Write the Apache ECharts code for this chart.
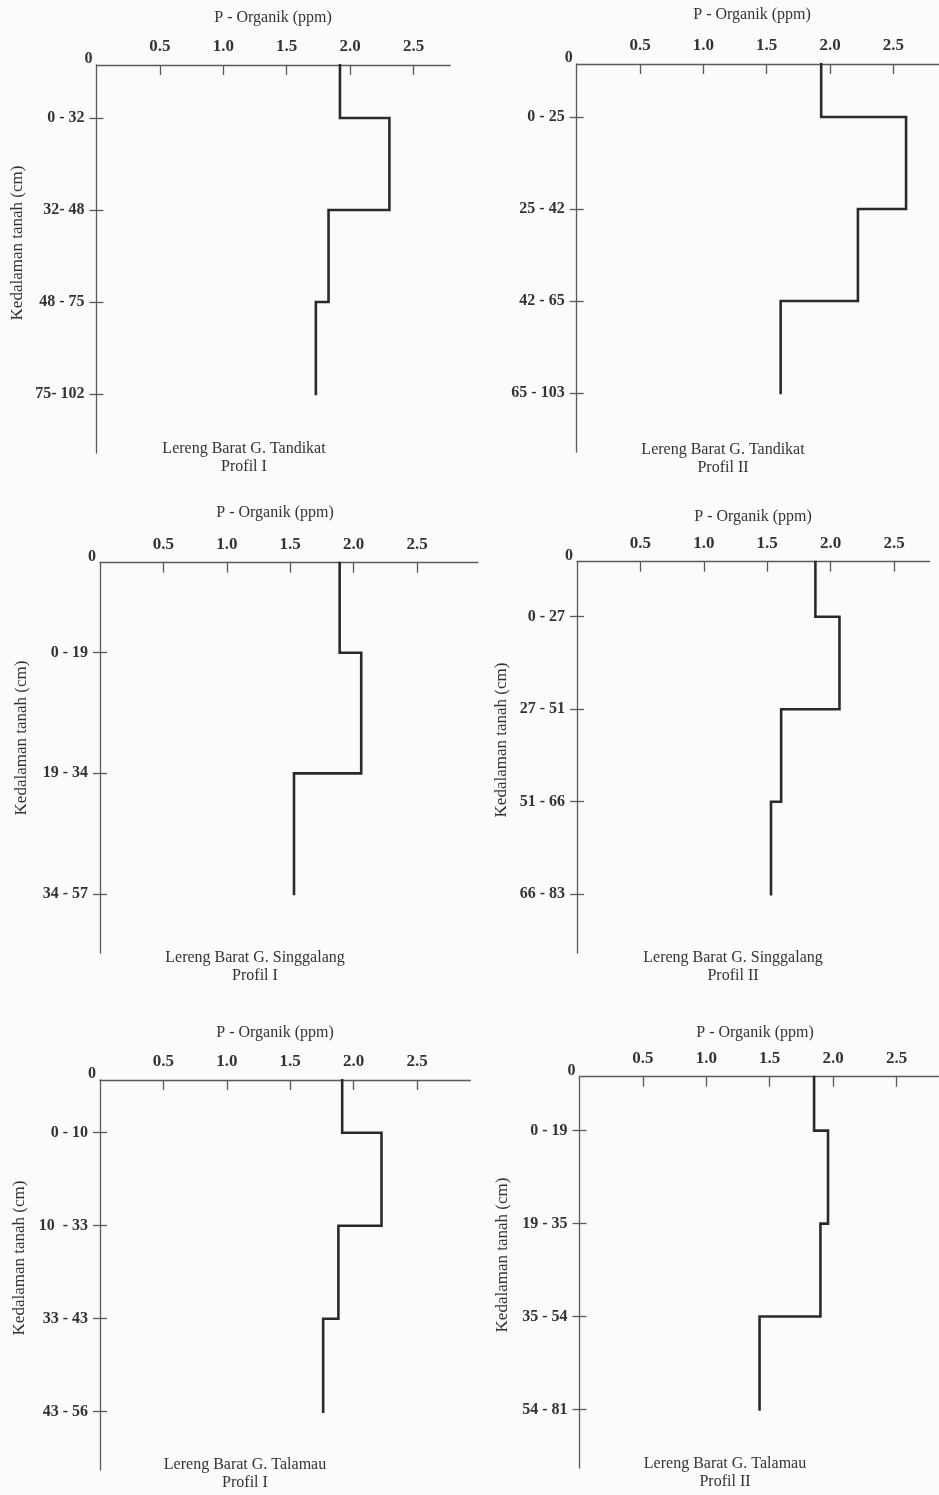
<!DOCTYPE html>
<html><head><meta charset="utf-8">
<script src="https://cdn.jsdelivr.net/npm/echarts@6/dist/echarts.min.js"></script>
<style>html,body{margin:0;padding:0;background:#fbfbfb}#c{width:939px;height:1495px}</style>
</head><body><div id="c"></div>
<script>
// ---- data ----
const xTickValues = [0.5, 1.0, 1.5, 2.0, 2.5];
const xAxisTitle = 'P - Organik (ppm)';
const yAxisTitle = 'Kedalaman tanah (cm)';

const tandikat1Layers = ['0 - 32', '32- 48', '48 - 75', '75- 102'];
const tandikat1Values = [1.92, 2.31, 1.83, 1.73];

const tandikat2Layers = ['0 - 25', '25 - 42', '42 - 65', '65 - 103'];
const tandikat2Values = [1.93, 2.60, 2.22, 1.61];

const singgalang1Layers = ['0 - 19', '19 - 34', '34 - 57'];
const singgalang1Values = [1.89, 2.06, 1.53];

const singgalang2Layers = ['0 - 27', '27 - 51', '51 - 66', '66 - 83'];
const singgalang2Values = [1.88, 2.07, 1.61, 1.53];

const talamau1Layers = ['0 - 10', '10  - 33', '33 - 43', '43 - 56'];
const talamau1Values = [1.91, 2.22, 1.88, 1.76];

const talamau2Layers = ['0 - 19', '19 - 35', '35 - 54', '54 - 81'];
const talamau2Values = [1.85, 1.96, 1.90, 1.42];

const panels = [
  {layers: tandikat1Layers, values: tandikat1Values, site: 'Lereng Barat G. Tandikat', profil: 'Profil I', yName: true},
  {layers: tandikat2Layers, values: tandikat2Values, site: 'Lereng Barat G. Tandikat', profil: 'Profil II', yName: false},
  {layers: singgalang1Layers, values: singgalang1Values, site: 'Lereng Barat G. Singgalang', profil: 'Profil I', yName: true},
  {layers: singgalang2Layers, values: singgalang2Values, site: 'Lereng Barat G. Singgalang', profil: 'Profil II', yName: true},
  {layers: talamau1Layers, values: talamau1Values, site: 'Lereng Barat G. Talamau', profil: 'Profil I', yName: true},
  {layers: talamau2Layers, values: talamau2Values, site: 'Lereng Barat G. Talamau', profil: 'Profil II', yName: true}
];

// ---- layout (positions / sizes) ----
const PX_PER_UNIT = 126.8;
const layout = [
  {left: 96.5, top: 65,    xMax: 2.79, h: 388,   first: 0.576, step: 92,    tx: 273, ty: 18,  sx: 244, sy: 449,  nx: 18,  ny: 243},
  {left: 576.7, top: 64,   xMax: 2.86, h: 388,   first: 0.576, step: 92,    tx: 752, ty: 15,  sx: 723, sy: 450,  nx: 0,   ny: 0},
  {left: 100, top: 562.7,  xMax: 2.98, h: 390.3, first: 0.746, step: 120.65,tx: 275, ty: 513, sx: 255, sy: 958,  nx: 22,  ny: 738},
  {left: 577, top: 561.7,  xMax: 2.78, h: 391.3, first: 0.595, step: 92.5,  tx: 753, ty: 517, sx: 733, sy: 958,  nx: 502, ny: 740},
  {left: 100, top: 1080,   xMax: 2.92, h: 390,   first: 0.567, step: 93,    tx: 275, ty: 1033,sx: 245, sy: 1465, nx: 20,  ny: 1258},
  {left: 579.5, top: 1076.7,xMax: 2.83, h: 391.3, first: 0.581, step: 92.9, tx: 755, ty: 1033,sx: 725, sy: 1464, nx: 503, ny: 1255}
];

const FONT = '"Liberation Serif", "DejaVu Serif", serif';
const TXT = '#333';
const AXIS = '#5a5a5a';
const LINE = '#2a2a2a';

const grid = [], xAxis = [], yAxis = [], series = [], graphic = [];

panels.forEach((p, i) => {
  const L = layout[i];
  const yMax = L.h / L.step;
  const bounds = p.layers.map((_, k) => L.first + k);
  grid.push({left: L.left, top: L.top, width: L.xMax * PX_PER_UNIT, height: L.h, containLabel: false});
  xAxis.push({
    type: 'value', gridIndex: i, position: 'top', min: 0, max: L.xMax,
    axisLine: {show: true, onZero: false, lineStyle: {color: AXIS, width: 1.3}},
    axisTick: {show: true, inside: true, length: 10, customValues: xTickValues, lineStyle: {color: AXIS, width: 1.3}},
    axisLabel: {show: true, customValues: xTickValues, margin: 10, fontFamily: FONT, fontWeight: 'bold', fontSize: 17, color: TXT,
      formatter: v => v.toFixed(1)},
    splitLine: {show: false}
  });
  const yBase = {type: 'value', gridIndex: i, inverse: true, min: 0, max: yMax, position: 'left', splitLine: {show: false}};
  yAxis.push(Object.assign({}, yBase, {
    axisLine: {show: true, onZero: false, lineStyle: {color: AXIS, width: 1.3}},
    axisTick: {show: true, inside: false, length: 7, customValues: bounds, lineStyle: {color: AXIS, width: 1.3}},
    axisLabel: {show: true, customValues: bounds, margin: 12, fontFamily: FONT, fontWeight: 'bold', fontSize: 16, color: TXT,
      formatter: v => p.layers[Math.round(v - L.first)] || ''}
  }));
  yAxis.push(Object.assign({}, yBase, {
    axisLine: {show: false},
    axisTick: {show: true, inside: true, length: 7, customValues: bounds, lineStyle: {color: AXIS, width: 1.3}},
    axisLabel: {show: false}
  }));
  // staircase built from values and layer boundaries
  const pts = [];
  p.values.forEach((v, k) => {
    const y0 = k === 0 ? 0 : bounds[k - 1];
    pts.push([v, y0]);
    pts.push([v, bounds[k]]);
  });
  series.push({
    type: 'line', xAxisIndex: i, yAxisIndex: 2 * i, data: pts, symbol: 'none', animation: false,
    lineStyle: {color: LINE, width: 2.6, join: 'miter', cap: 'square'}
  });
  // texts
  graphic.push({type: 'text', x: L.tx, y: L.ty, style: {text: xAxisTitle, fontFamily: FONT, fontSize: 16, fill: TXT, textAlign: 'center', textVerticalAlign: 'middle'}});
  graphic.push({type: 'text', x: L.left - 4, y: L.top + 2, style: {text: '0', fontFamily: FONT, fontWeight: 'bold', fontSize: 16, fill: TXT, textAlign: 'right', textVerticalAlign: 'bottom'}});
  graphic.push({type: 'text', x: L.sx, y: L.sy, style: {text: p.site, fontFamily: FONT, fontSize: 16, fill: TXT, textAlign: 'center', textVerticalAlign: 'middle'}});
  graphic.push({type: 'text', x: L.sx, y: L.sy + 18, style: {text: p.profil, fontFamily: FONT, fontSize: 16, fill: TXT, textAlign: 'center', textVerticalAlign: 'middle'}});
  if (p.yName) {
    graphic.push({type: 'text', x: L.nx, y: L.ny, rotation: Math.PI / 2,
      style: {text: yAxisTitle, fontFamily: FONT, fontSize: 17, fill: TXT, textAlign: 'center', textVerticalAlign: 'middle'}});
  }
});

const chart = echarts.init(document.getElementById('c'), null, {renderer: 'canvas'});
chart.setOption({backgroundColor: '#fbfbfb', animation: false, grid, xAxis, yAxis, series, graphic});
</script></body></html>
